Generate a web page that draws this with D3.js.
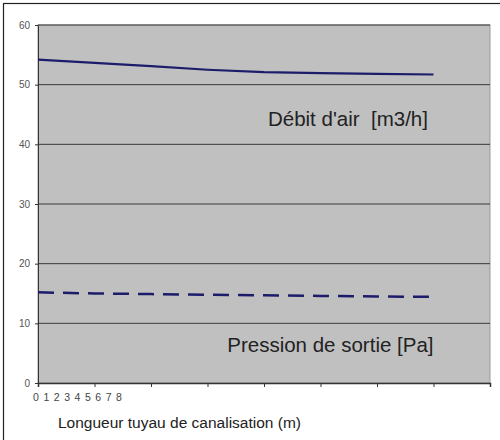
<!DOCTYPE html>
<html>
<head>
<meta charset="utf-8">
<script src="https://cdn.jsdelivr.net/npm/d3@7"></script>
<style>
  body { margin: 0; background: #fff; }
  text { font-family: "Liberation Sans", Arial, sans-serif; }
</style>
</head>
<body>
<div id="chart"></div>
<script>
// chart data
var positions = [0, 1, 2, 3, 4, 5, 6, 7];
var debitAir = [54.2, 53.65, 53.1, 52.5, 52.1, 51.95, 51.8, 51.7];
var pression = [15.2, 15.0, 14.9, 14.8, 14.7, 14.6, 14.5, 14.45];
var xTickLabels = ["0", "1", "2", "3", "4", "5", "6", "7", "8"];
var yTicks = [0, 10, 20, 30, 40, 50, 60];

var svgWidth = 500;
var svgHeight = 440;

var margin = { top: 25, right: 10, bottom: 57, left: 38 };
var chartWidth = svgWidth - margin.left - margin.right;
var chartHeight = svgHeight - margin.top - margin.bottom;

var svg = d3.select("#chart").append("svg")
    .attr("width", svgWidth)
    .attr("height", svgHeight);

// outer frame
svg.append("rect")
    .attr("x", 3.5).attr("y", 3.5)
    .attr("width", 520).attr("height", 520)
    .attr("fill", "none")
    .attr("stroke", "#222")
    .attr("stroke-width", 1.2);

var chartGroup = svg.append("g")
    .attr("transform", `translate(${margin.left}, ${margin.top})`);

// scales
var xScale = d3.scaleLinear().domain([0, 8]).range([0, chartWidth]);
var yScale = d3.scaleLinear().domain([0, 60]).range([chartHeight, 0]);
var labelScale = d3.scalePoint().domain(xTickLabels).range([-2, 81]);

// plot background
chartGroup.append("rect")
    .attr("width", chartWidth)
    .attr("height", chartHeight)
    .attr("fill", "#c0c0c0")
    .attr("stroke", "#9a9a9a");

// gridlines
chartGroup.selectAll(".grid")
    .data(yTicks.filter(d => d > 0))
    .enter()
    .append("line")
    .attr("x1", 0).attr("x2", chartWidth)
    .attr("y1", d => yScale(d)).attr("y2", d => yScale(d))
    .attr("stroke", "#3a3a3a")
    .attr("stroke-width", 1);

// y axis
var yAxis = d3.axisLeft(yScale).tickValues(yTicks).tickSize(3).tickPadding(5);
var yG = chartGroup.append("g").call(yAxis);
yG.select(".domain").attr("stroke", "#333");
yG.selectAll("line").attr("stroke", "#333");
yG.selectAll("text").attr("font-size", 10).attr("fill", "#555")
    .attr("font-family", "Liberation Sans, Arial, sans-serif");

// x axis (tick marks only)
var xAxis = d3.axisBottom(xScale).ticks(8).tickSize(4).tickFormat("");
var xG = chartGroup.append("g")
    .attr("transform", `translate(0, ${chartHeight})`)
    .call(xAxis);
xG.select(".domain").attr("stroke", "#333").attr("stroke-width", 1.5);
xG.selectAll("line").attr("stroke", "#333");

// squeezed x labels
chartGroup.selectAll(".xlab")
    .data(xTickLabels)
    .enter()
    .append("text")
    .attr("x", d => labelScale(d))
    .attr("y", chartHeight + 18)
    .attr("text-anchor", "middle")
    .attr("font-size", 10.5)
    .attr("fill", "#444")
    .text(d => d);

// lines
var line = d3.line()
    .x((d, i) => xScale(positions[i]))
    .y(d => yScale(d));

chartGroup.append("path")
    .datum(debitAir)
    .attr("d", line)
    .attr("fill", "none")
    .attr("stroke", "#1c1c6a")
    .attr("stroke-width", 2.2);

chartGroup.append("path")
    .datum(pression)
    .attr("d", line)
    .attr("fill", "none")
    .attr("stroke", "#1c1c6a")
    .attr("stroke-width", 2.5)
    .attr("stroke-dasharray", "16,9");

// labels
chartGroup.append("text")
    .attr("x", xScale(4.07))
    .attr("y", yScale(43.0))
    .attr("font-size", 20.5)
    .attr("fill", "#222")
    .style("white-space", "pre")
    .text("Débit d'air  [m3/h]");

chartGroup.append("text")
    .attr("x", xScale(3.35))
    .attr("y", yScale(5.2))
    .attr("font-size", 20.5)
    .attr("fill", "#222")
    .text("Pression de sortie [Pa]");

svg.append("text")
    .attr("x", 58)
    .attr("y", 428)
    .attr("font-size", 15.5)
    .attr("fill", "#222")
    .text("Longueur tuyau de canalisation (m)");
</script>
</body>
</html>
